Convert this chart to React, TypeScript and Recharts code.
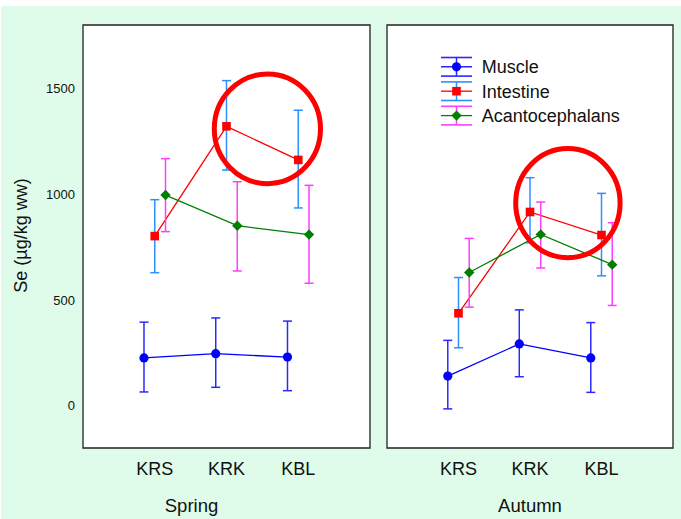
import React from "react";
import {
  ComposedChart,
  Line,
  XAxis,
  YAxis,
  ErrorBar,
  ReferenceArea,
  CartesianGrid,
  Legend,
} from "recharts";

const SITES = ["KRS", "KRK", "KBL"];
const SEASONS = ["Spring", "Autumn"];
const TISSUES = ["Muscle", "Intestine", "Acantocephalans"];

// Se (µg/kg ww): mean and the two ends of each error bar, one value per site
const SPRING_MUSCLE = [226, 246, 230];
const SPRING_MUSCLE_LOW = [65, 87, 71];
const SPRING_MUSCLE_HIGH = [395, 415, 400];
const SPRING_INTESTINE = [802, 1321, 1162];
const SPRING_INTESTINE_LOW = [629, 1114, 935];
const SPRING_INTESTINE_HIGH = [974, 1537, 1397];
const SPRING_ACANTO = [996, 851, 809];
const SPRING_ACANTO_LOW = [823, 637, 579];
const SPRING_ACANTO_HIGH = [1168, 1059, 1042];

const AUTUMN_MUSCLE = [140, 292, 226];
const AUTUMN_MUSCLE_LOW = [-15, 137, 63];
const AUTUMN_MUSCLE_HIGH = [309, 453, 393];
const AUTUMN_INTESTINE = [437, 916, 807];
const AUTUMN_INTESTINE_LOW = [274, 770, 614];
const AUTUMN_INTESTINE_HIGH = [606, 1078, 1004];
const AUTUMN_ACANTO = [630, 810, 667];
const AUTUMN_ACANTO_LOW = [466, 651, 474];
const AUTUMN_ACANTO_HIGH = [791, 963, 865];

const Y_DOMAIN = [-200, 1800];
const Y_LABEL_TICKS = [0, 500, 1000, 1500];
const Y_MINOR_TICKS = [0, 200, 400, 600, 800, 1000, 1200, 1400, 1600];
const X_TICKS = [1, 2, 3];

// red rings drawn round the highlighted points, in data units (x range, y range)
const RING_X = [
  [1.83, 3.31],
  [1.8, 3.26],
];
const RING_Y = [
  [1050, 1568],
  [700, 1216],
];

const MEAN = [
  [SPRING_MUSCLE, SPRING_INTESTINE, SPRING_ACANTO],
  [AUTUMN_MUSCLE, AUTUMN_INTESTINE, AUTUMN_ACANTO],
];
const LOW = [
  [SPRING_MUSCLE_LOW, SPRING_INTESTINE_LOW, SPRING_ACANTO_LOW],
  [AUTUMN_MUSCLE_LOW, AUTUMN_INTESTINE_LOW, AUTUMN_ACANTO_LOW],
];
const HIGH = [
  [SPRING_MUSCLE_HIGH, SPRING_INTESTINE_HIGH, SPRING_ACANTO_HIGH],
  [AUTUMN_MUSCLE_HIGH, AUTUMN_INTESTINE_HIGH, AUTUMN_ACANTO_HIGH],
];

const LINE_COLORS = ["#0000ff", "#ff0000", "#008000"];
const BAR_COLORS = ["#2a2aff", "#2e8fff", "#ff3cff"];
const SHIFTS = [-0.15, 0, 0.15];
const MARKERS = ["circle", "square", "diamond"];
const SEASON_DX = [-35, 0];
const FONT = "'Liberation Sans', Arial, sans-serif";

type Row = { x: number; y: number; err: [number, number] };

const rows = (mean: number[], low: number[], high: number[], shift: number): Row[] =>
  mean.map((m, i) => ({ x: i + 1 + shift, y: m, err: [m - low[i], high[i] - m] }));

function Marker({ cx, cy, kind, color }: any) {
  if (cx == null || cy == null) return null;
  if (kind === "circle") return <circle cx={cx} cy={cy} r={4.6} fill={color} />;
  if (kind === "square")
    return <rect x={cx - 4.3} y={cy - 4.3} width={8.6} height={8.6} fill={color} />;
  const d = 5.2;
  return (
    <path
      d={`M${cx},${cy - d}L${cx + d},${cy}L${cx},${cy + d}L${cx - d},${cy}Z`}
      fill={color}
    />
  );
}

function LegendBox({ payload }: any) {
  const items = (payload ?? [])
    .filter((p: any) => TISSUES.includes(p.value))
    .sort((a: any, b: any) => TISSUES.indexOf(a.value) - TISSUES.indexOf(b.value));
  return (
    <svg width={220} height={80} style={{ display: "block", overflow: "visible" }}>
      {items.map((p: any, i: number) => {
        const t = TISSUES.indexOf(p.value);
        const cy = 12.8 + i * 24.4;
        return (
          <g key={p.value}>
            <line x1={0} x2={31} y1={cy - 9.3} y2={cy - 9.3} stroke={BAR_COLORS[t]} strokeWidth={1.6} />
            <line x1={0} x2={31} y1={cy + 9.3} y2={cy + 9.3} stroke={BAR_COLORS[t]} strokeWidth={1.6} />
            <line x1={15.5} x2={15.5} y1={cy - 9.3} y2={cy + 9.3} stroke={BAR_COLORS[t]} strokeWidth={1.5} />
            <line x1={0} x2={31} y1={cy} y2={cy} stroke={LINE_COLORS[t]} strokeWidth={1.3} />
            <Marker cx={15.5} cy={cy} kind={MARKERS[t]} color={LINE_COLORS[t]} />
            <text x={40.7} y={cy + 6.5} fontSize={18} fontFamily={FONT} fill="#111">
              {p.value}
            </text>
          </g>
        );
      })}
    </svg>
  );
}

function Panel({ s }: { s: number }) {
  const first = s === 0;
  const data = TISSUES.map((_, t) => rows(MEAN[s][t], LOW[s][t], HIGH[s][t], SHIFTS[t]));

  return (
    <div style={{ position: "absolute", left: first ? 0 : 380, top: 0 }}>
      <ComposedChart
        width={first ? 380 : 301}
        height={519}
        margin={{ top: 25, right: first ? 10 : 8, bottom: 0, left: 0 }}
      >
        <CartesianGrid xAxisId="m" yAxisId="m" horizontal={false} vertical={false} fill="#ffffff" />
        <XAxis
          xAxisId="m"
          type="number"
          dataKey="x"
          domain={[0, 4]}
          ticks={X_TICKS}
          interval={0}
          allowDataOverflow
          tickFormatter={(v) => SITES[v - 1] ?? ""}
          axisLine={false}
          tickLine={false}
          tickSize={0}
          tickMargin={14}
          height={71}
          tick={{ fontSize: 18, fill: "#111", fontFamily: FONT }}
          label={{
            content: (p: any) => {
              const vb = p.viewBox ?? {};
              return (
                <text
                  x={vb.x + vb.width / 2 + SEASON_DX[s]}
                  y={512}
                  textAnchor="middle"
                  fontSize={18.5}
                  fontFamily={FONT}
                  fill="#111"
                >
                  {SEASONS[s]}
                </text>
              );
            },
          }}
        />
        <XAxis
          xAxisId="t"
          type="number"
          mirror
          domain={[0, 4]}
          ticks={X_TICKS}
          interval={0}
          allowDataOverflow
          tick={false}
          axisLine={false}
          tickSize={4}
          stroke="#222"
        />
        <YAxis
          yAxisId="m"
          type="number"
          domain={Y_DOMAIN}
          ticks={Y_LABEL_TICKS}
          interval={0}
          allowDataOverflow
          width={first ? 83 : 7}
          axisLine={false}
          tickLine={false}
          tick={first ? { fontSize: 13, fill: "#111", fontFamily: FONT } : false}
          label={
            first
              ? {
                  content: (p: any) => {
                    const vb = p.viewBox ?? {};
                    const cx = vb.x + 21;
                    const cy = vb.y + vb.height / 2 - 1;
                    return (
                      <text
                        x={cx}
                        y={cy}
                        transform={`rotate(-90, ${cx}, ${cy})`}
                        textAnchor="middle"
                        dominantBaseline="central"
                        fontSize={18}
                        fontFamily={FONT}
                        fill="#111"
                      >
                        Se (µg/kg ww)
                      </text>
                    );
                  },
                }
              : undefined
          }
        />
        <YAxis
          yAxisId="l"
          type="number"
          mirror
          domain={Y_DOMAIN}
          ticks={Y_LABEL_TICKS}
          interval={0}
          allowDataOverflow
          tick={false}
          axisLine={false}
          tickSize={3}
          stroke="#222"
        />
        <YAxis
          yAxisId="r"
          type="number"
          orientation="right"
          mirror
          domain={Y_DOMAIN}
          ticks={Y_MINOR_TICKS}
          interval={0}
          allowDataOverflow
          tick={false}
          axisLine={false}
          tickSize={3}
          stroke="#222"
        />
        <ReferenceArea
          xAxisId="m"
          yAxisId="m"
          x1={0}
          x2={4}
          y1={Y_DOMAIN[0]}
          y2={Y_DOMAIN[1]}
          fill="none"
          stroke="#222"
          strokeWidth={1.3}
          ifOverflow="visible"
        />
        {TISSUES.map((name, t) => (
          <Line
            key={name}
            name={name}
            data={data[t]}
            xAxisId="m"
            yAxisId="m"
            dataKey="y"
            stroke={LINE_COLORS[t]}
            strokeWidth={1.3}
            isAnimationActive={false}
            activeDot={false}
            dot={(p: any) => (
              <Marker key={`${name}-${p.index}`} cx={p.cx} cy={p.cy} kind={MARKERS[t]} color={LINE_COLORS[t]} />
            )}
          >
            <ErrorBar
              dataKey="err"
              direction="y"
              width={4.5}
              stroke={BAR_COLORS[t]}
              strokeWidth={1.5}
              isAnimationActive={false}
            />
          </Line>
        ))}
        <ReferenceArea
          xAxisId="m"
          yAxisId="m"
          x1={RING_X[s][0]}
          x2={RING_X[s][1]}
          y1={RING_Y[s][0]}
          y2={RING_Y[s][1]}
          zIndex={1000}
          ifOverflow="visible"
          shape={(p: any) => (
            <ellipse
              cx={p.x + p.width / 2}
              cy={p.y + p.height / 2}
              rx={Math.abs(p.width) / 2}
              ry={Math.abs(p.height) / 2}
              fill="none"
              stroke="#ff0000"
              strokeWidth={5}
            />
          )}
        />
        {!first && (
          <Legend
            layout="vertical"
            align="center"
            verticalAlign="middle"
            content={<LegendBox />}
            wrapperStyle={{ left: 61, top: 54, width: 230, height: 80 }}
          />
        )}
      </ComposedChart>
    </div>
  );
}

export default function App() {
  return (
    <div
      style={{
        position: "absolute",
        left: 0,
        top: 0,
        width: 681,
        height: 519,
        background: "#ffffff",
        fontFamily: FONT,
      }}
    >
      <div
        style={{
          position: "absolute",
          left: 1,
          top: 6,
          width: 680,
          height: 513,
          background: "#dffbe9",
        }}
      />
      {SEASONS.map((season, s) => (
        <Panel key={season} s={s} />
      ))}
    </div>
  );
}
